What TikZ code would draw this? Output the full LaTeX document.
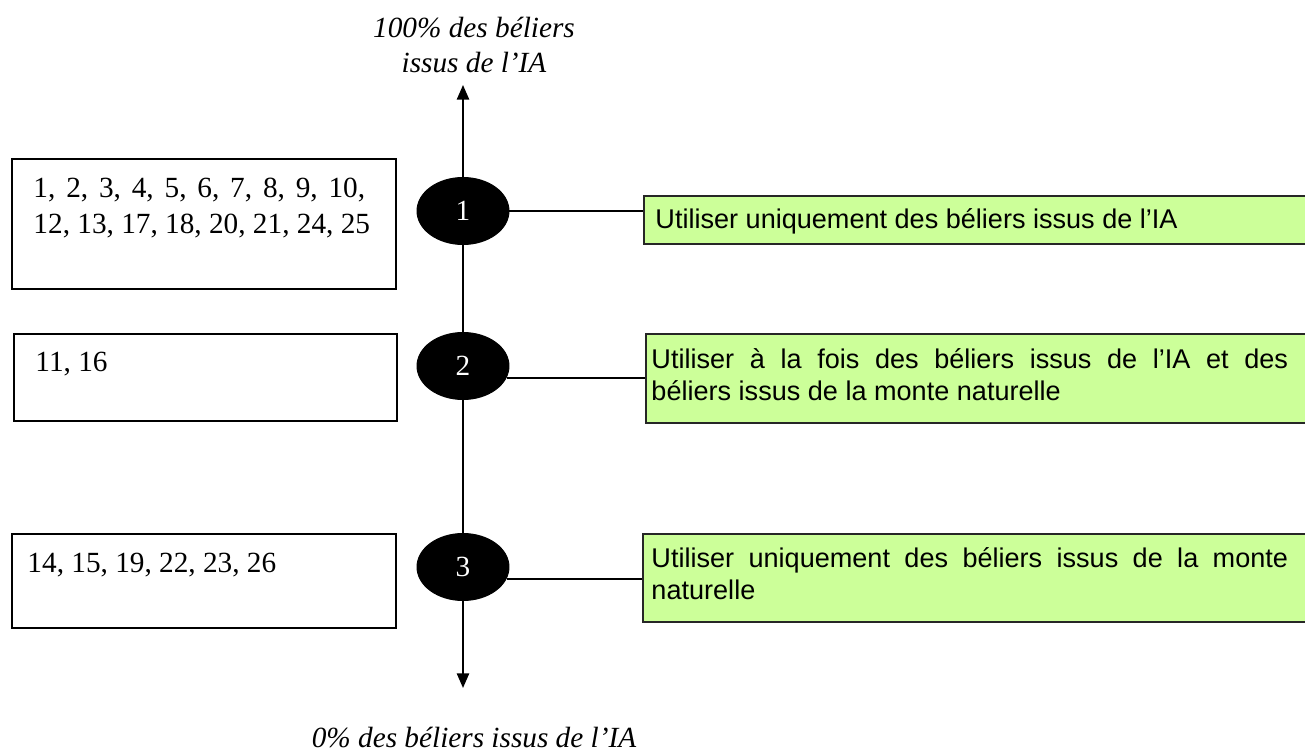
\documentclass[tikz,border=0pt]{standalone}
\usepackage{fontspec}
\setmainfont{Liberation Serif}
\newfontfamily\arialf{Liberation Sans}
\usetikzlibrary{arrows.meta,shapes.geometric}
\definecolor{lgreen}{HTML}{CCFF99}
\tikzset{
  plainbox/.style={draw=black,line width=0.8pt,inner sep=0pt,anchor=north west},
  greenbox/.style={draw=black!85,fill=lgreen,line width=0.8pt,inner sep=0pt,anchor=north west},
  numtext/.style={anchor=north west,inner sep=0pt,align=left,font=\fontsize{12}{14.4}\selectfont},
  greentext/.style={anchor=north west,inner sep=0pt,align=left,font=\arialf\fontsize{11.1}{13.2}\selectfont},
  blob/.style={ellipse,fill=black,draw=black,minimum width=92*0.41pt,minimum height=67*0.41pt,inner sep=0pt,text=white,font=\fontsize{12}{14}\selectfont},
  axis/.style={line width=0.8pt},
  link/.style={line width=0.8pt},
  tip/.style={-{Triangle[width=5pt,length=6pt]}}
}
\begin{document}
\begin{tikzpicture}[x=0.41pt,y=-0.41pt]
\useasboundingbox (0,0) rectangle (1305,751);
% top and bottom labels
\node[align=center,inner sep=0pt,font=\itshape\fontsize{12}{14.4}\selectfont] (toplab) at (474,45) {100\% des béliers\\issus de l’IA};
\node[inner sep=0pt,font=\itshape\fontsize{12}{14.4}\selectfont] (botlab) at (474,738) {0\% des béliers issus de l’IA};
\coordinate (top) at (463,85);
\coordinate (bot) at (463,688);
% ellipses
\node[blob] (e1) at (463,211) {1};
\node[blob] (e2) at (463,366) {2};
\node[blob] (e3) at (463,567) {3};
% axis
\draw[axis,tip] (e1) -- (top);
\draw[axis] (e1) -- (e2);
\draw[axis] (e2) -- (e3);
\draw[axis,tip] (e3) -- (bot);
% left boxes
\node[plainbox,minimum width=384*0.41pt,minimum height=130*0.41pt] (b1) at (11,158) {};
\node[numtext] (t1) at (33,178) {\makebox[136pt][s]{1, 2, 3, 4, 5, 6, 7, 8, 9, 10,}\\12, 13, 17, 18, 20, 21, 24, 25};
\node[plainbox,minimum width=383*0.41pt,minimum height=87*0.41pt] (b2) at (13,333) {};
\node[numtext] (t2) at (35,352) {11, 16};
\node[plainbox,minimum width=384*0.41pt,minimum height=94*0.41pt] (b3) at (11,533) {};
\node[numtext] (t3) at (27,553) {14, 15, 19, 22, 23, 26};
% green boxes
\node[greenbox,minimum width=700*0.41pt,minimum height=48*0.41pt] (g1) at (643,195) {};
\node[greentext] (gt1) at (655,208) {Utiliser uniquement des béliers issus de l’IA};
\node[greenbox,minimum width=700*0.41pt,minimum height=89*0.41pt] (g2) at (645,333) {};
\node[greentext] (gt2) at (651,348) {\makebox[261pt][s]{Utiliser à la fois des béliers issus de l’IA et des}\\béliers issus de la monte naturelle};
\node[greenbox,minimum width=700*0.41pt,minimum height=88*0.41pt] (g3) at (642,533) {};
\node[greentext] (gt3) at (651,547) {\makebox[261pt][s]{Utiliser uniquement des béliers issus de la monte}\\naturelle};
% links
\draw[link] (e1.east) -- (e1.east -| g1.west);
\draw[link] (e2.-15) -- (e2.-15 -| g2.west);
\draw[link] (e3.-15) -- (e3.-15 -| g3.west);
\end{tikzpicture}
\end{document}
